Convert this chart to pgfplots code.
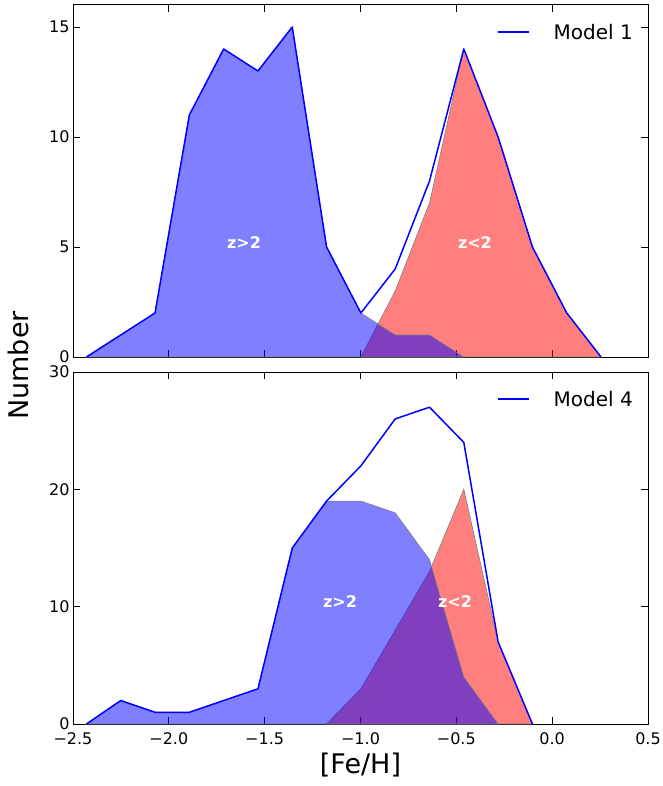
\documentclass[border=0pt]{standalone}
\usepackage{fontspec}
\setmainfont{DejaVu Sans}
\newfontfamily\boldlab{DejaVu Sans Bold}
\usepackage{pgfplots}
\pgfplotsset{compat=1.18}
\begin{document}
\begin{tikzpicture}[x=1pt,y=1pt]
\pgfplotsset{
  every axis/.append style={
    scale only axis, width=575pt, height=352pt,
    xmin=-2.5, xmax=0.5,
    axis line style={line width=1pt},
    tick style={black, line width=0.8pt},
    major tick length=7pt,
    tick align=inside,
    xtick={-2.5,-2,-1.5,-1,-0.5,0,0.5},
    ticklabel style={font=\fontsize{16}{19}\selectfont},
    xticklabel style={yshift=-5pt},
    clip=false,
    legend style={draw=none, fill=none, font=\fontsize{20}{24}\selectfont,
       at={(0.731,0.957)}, anchor=north west, legend cell align=left,
       column sep=22pt},
  },
}
% ---------- top panel ----------
\begin{axis}[at={(73pt,-357pt)}, anchor=south west,
  ymin=0, ymax=16,
  ytick={0,5,10,15}, yticklabels={0,5,10,15},
  xticklabels={},
]
\addplot[draw=gray, line width=0.6pt, fill=red, fill opacity=0.5, forget plot]
 coordinates {(-0.998,0) (-0.819,3) (-0.640,7) (-0.461,14) (-0.282,10) (-0.103,5) (0.076,2) (0.255,0)} \closedcycle;
\addplot[draw=gray, line width=0.6pt, fill=blue, fill opacity=0.5, forget plot]
 coordinates {(-2.430,0) (-2.251,1) (-2.072,2) (-1.893,11) (-1.714,14) (-1.535,13) (-1.356,15) (-1.177,5) (-0.998,2) (-0.819,1) (-0.640,1) (-0.461,0)} \closedcycle;
\addplot[blue, line width=1.5pt, line join=round,
  legend image code/.code={\path[draw=blue, line width=2.2pt, draw opacity=1] (0pt,0.3pt) -- (31pt,0.3pt);}]
 coordinates {(-2.430,0) (-2.251,1) (-2.072,2) (-1.893,11) (-1.714,14) (-1.535,13) (-1.356,15) (-1.177,5) (-0.998,2) (-0.819,4) (-0.640,8) (-0.461,14) (-0.282,10) (-0.103,5) (0.076,2) (0.255,0)};
\addlegendentry{Model 1}
\node[text=white, font=\boldlab\fontsize{16}{19}\selectfont] at (axis cs:-1.608,5.2) {z>2};
\node[text=white, font=\boldlab\fontsize{16}{19}\selectfont] at (axis cs:-0.403,5.2) {z<2};
\end{axis}
% ---------- bottom panel ----------
\begin{axis}[at={(73pt,-724pt)}, anchor=south west,
  ymin=0, ymax=30,
  ytick={0,10,20,30}, yticklabels={0,10,20,30},
  xticklabels={−2.5,−2.0,−1.5,−1.0,−0.5,0.0,0.5},
  xlabel={[Fe/H]},
  xlabel style={font=\fontsize{27}{32}\selectfont, yshift=-1pt},
]
\addplot[draw=gray, line width=0.6pt, fill=red, fill opacity=0.5, forget plot]
 coordinates {(-1.177,0) (-0.998,3) (-0.819,8) (-0.640,13) (-0.461,20) (-0.282,7) (-0.103,0)} \closedcycle;
\addplot[draw=gray, line width=0.6pt, fill=blue, fill opacity=0.5, forget plot]
 coordinates {(-2.430,0) (-2.251,2) (-2.072,1) (-1.893,1) (-1.714,2) (-1.535,3) (-1.356,15) (-1.177,19) (-0.998,19) (-0.819,18) (-0.640,14) (-0.461,4) (-0.282,0)} \closedcycle;
\addplot[blue, line width=1.5pt, line join=round,
  legend image code/.code={\path[draw=blue, line width=2.2pt, draw opacity=1] (0pt,0.3pt) -- (31pt,0.3pt);}]
 coordinates {(-2.430,0) (-2.251,2) (-2.072,1) (-1.893,1) (-1.714,2) (-1.535,3) (-1.356,15) (-1.177,19) (-0.998,22) (-0.819,26) (-0.640,27) (-0.461,24) (-0.282,7) (-0.103,0)};
\addlegendentry{Model 4}
\node[text=white, font=\boldlab\fontsize{16}{19}\selectfont] at (axis cs:-1.107,10.4) {z>2};
\node[text=white, font=\boldlab\fontsize{16}{19}\selectfont] at (axis cs:-0.507,10.4) {z<2};
\end{axis}
\node[rotate=90, font=\fontsize{27}{32}\selectfont] at (18pt,-365.5pt) {Number};
\pgfresetboundingbox
\path (0pt,0pt) rectangle (663pt,-786pt);
\end{tikzpicture}
\end{document}
